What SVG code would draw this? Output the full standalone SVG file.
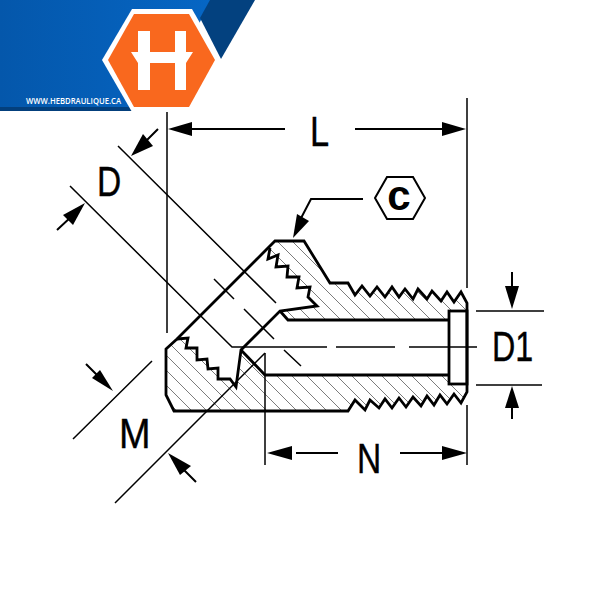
<svg xmlns="http://www.w3.org/2000/svg" width="600" height="600" viewBox="0 0 600 600">
<style>
.thin{fill:none;stroke:#000;stroke-width:1.5}
.med{fill:none;stroke:#000;stroke-width:2}
.bold{fill:none;stroke:#000;stroke-width:2.8;stroke-linejoin:miter}
.hatch{fill:none;stroke:#444;stroke-width:.7}
.lab{font-family:"Liberation Sans",Arial,sans-serif;font-size:43px;fill:#000;stroke:#000;stroke-width:.4}
.ah{fill:#000;stroke:none}
</style>
<defs>
<clipPath id="sec">
<polygon points="275,241 304,241 330,283 348,283 355,295 362,286 370,296 377,287 385,297 392,287 399,297 405,289 413,299 418,289 427,299 432,291 441,301 447,292 454,302 461,292 467,303 467,311 449,311 449,320 288,320 280,311 317,306 308,297 310,287 298,288 299,277 287,277 288,266 278,267 276,255 268,259 270,248"/>
<polygon points="177,339 188,338 186,348 197,348 197,360 208,359 207,370 218,368 218,379 230,379 236,387 241,350 265,375 449,375 449,384 467,384 467,392 461,403 454,394 447,404 440,395 434,405 427,396 421,406 413,397 406,407 399,398 392,408 385,399 379,408 370,400 365,410 355,400 348,411 174,411 166,395 166,349"/>
</clipPath>
<linearGradient id="blue" x1="0" y1="0" x2="1" y2="0"><stop offset="0" stop-color="#0457ab"/><stop offset="1" stop-color="#0666c4"/></linearGradient>
</defs>
<rect width="600" height="600" fill="#fff"/>
<g id="logo">
<polygon points="0,0 212,0 190,40 132,108 0,108" fill="url(#blue)"/>
<polygon points="0,107 136,107 138,111 0,111" fill="#033f7c"/>
<polygon points="210,0 255,0 221,59 200,18" fill="#03417f"/>
<polygon points="102,60 132,9 192,9 221,60 192,112 132,112" fill="#fff"/>
<polygon points="108,60 134,14 189,14 215,60 189,107 134,107" fill="#f9681e"/>
<polygon points="138,31 150,31 150,52 175,52 175,31 186,31 186,52 193,52 186,63 186,90 175,90 175,63 150,63 150,90 138,90 138,63 131,52 138,52" fill="#fff"/>
<text x="26" y="104" font-family="'Open Sans','Liberation Sans',sans-serif" font-size="8.4px" font-weight="600" fill="#fff" textLength="95" lengthAdjust="spacingAndGlyphs">WWW.HEBDRAULIQUE.CA</text>
</g>
<g id="fitting">
<g clip-path="url(#sec)">
<path class="hatch" d="M-19,230l190,190M-4,230l190,190M11,230l190,190M26,230l190,190M41,230l190,190M56,230l190,190M71,230l190,190M86,230l190,190M101,230l190,190M116,230l190,190M131,230l190,190M146,230l190,190M161,230l190,190M176,230l190,190M191,230l190,190M206,230l190,190M221,230l190,190M236,230l190,190M251,230l190,190M266,230l190,190M281,230l190,190M296,230l190,190M311,230l190,190M326,230l190,190M341,230l190,190M356,230l190,190M371,230l190,190M386,230l190,190M401,230l190,190"/>
</g>
<path class="bold" d="M166,349 L177,339 L275,241 L304,241 L330,283 L348,283 L355,295 L362,286 L370,296 L377,287 L385,297 L392,287 L399,297 L405,289 L413,299 L418,289 L427,299 L432,291 L441,301 L447,292 L454,302 L461,292 L467,303 L467,392 L461,403 L454,394 L447,404 L440,395 L434,405 L427,396 L421,406 L413,397 L406,407 L399,398 L392,408 L385,399 L379,408 L370,400 L365,410 L355,400 L348,411 L174,411 L166,395 Z"/>
<path class="bold" d="M270,248 L268,259 L278,255 L276,267 L288,266 L287,277 L299,277 L297,288 L310,287 L308,297 L317,306 L280,311 L241,350 L236,387 L230,379 L218,379 L218,368 L208,369 L207,359 L197,360 L197,348 L186,348 L188,338 L177,339"/>
<path class="bold" d="M280,311 L288,320 L449,320 M241,350 L265,375 L449,375"/>
<rect class="bold" x="449" y="311" width="18" height="73"/>
</g>
<g id="connectors">
<path class="thin" d="M167,112 V333 M467,98 V288 M467,405 V465 M265,353 V465"/>
<path class="thin" d="M118,146 L276,303 M70,186 L232,347 H327 M336,347 H395 M409,347 H477"/>
<path class="thin" d="M214,279 L234,299 M244,309 L274,339 M284,350 L301,366"/>
<path class="thin" d="M73,439 L152,361 M115,503 L265,353"/>
<path class="thin" d="M476,311 H544 M476,385 H542"/>
<path class="med" d="M192,129 H285 M355,129 H445 M296,453 H338 M400,453 H445"/>
<path class="med" d="M512,272 V290 M512,404 V419 M158,129 L144,143 M57,230 L72,216 M86,364 L100,378 M196,482 L182,468"/>
<path class="med" d="M363,199 H311 L299,222"/>
<polygon class="ah" points="168,129 192,122 192,136"/>
<polygon class="ah" points="466,129 442,122 442,136"/>
<polygon class="ah" points="267,453 292,446 292,460"/>
<polygon class="ah" points="467,453 442,446 442,460"/>
<polygon class="ah" points="512,309 505,286 519,286"/>
<polygon class="ah" points="512,386 505,408 519,408"/>
<polygon class="ah" points="131,156 143,134 153,146"/>
<polygon class="ah" points="85,203 63,215 73,225"/>
<polygon class="ah" points="113,391 92,378 100,370"/>
<polygon class="ah" points="168,453 180,475 191,466"/>
<polygon class="ah" points="293,238 297,214 309,221"/>
</g>
<g id="label-c">
<polygon points="375,198 387,177 413,177 425,198 413,219 387,219" fill="#fff" stroke="#000" stroke-width="2"/>
<text x="399" y="210" text-anchor="middle" font-family="'Liberation Sans',Arial,sans-serif" font-size="42px" font-weight="700" fill="#000">c</text>
</g>
<g id="labels">
<text class="lab" transform="translate(97,196) scale(.78,1)">D</text>
<text class="lab" transform="translate(310,146) scale(.8,1)">L</text>
<text class="lab" transform="translate(119,448) scale(.88,1)">M</text>
<text class="lab" transform="translate(357,473) scale(.78,1)">N</text>
<text class="lab" transform="translate(492,361) scale(.75,1)">D1</text>
</g>
</svg>
